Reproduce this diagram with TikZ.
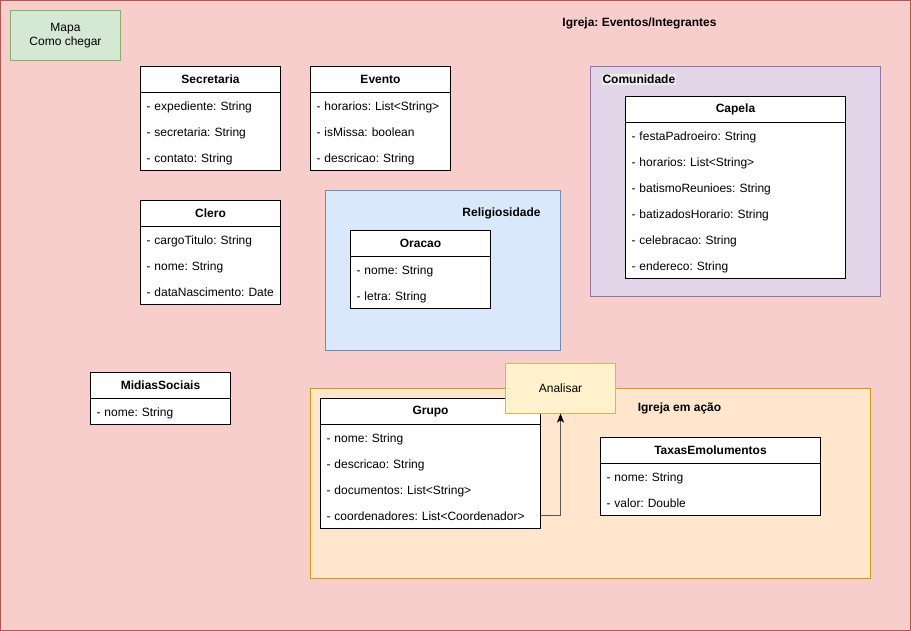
\documentclass[tikz,border=0pt]{standalone}
\usepackage{fontspec}
\setmainfont{Liberation Sans}
\usetikzlibrary{positioning}
\usetikzlibrary{arrows.meta}
\frenchspacing

\definecolor{bgfill}{HTML}{F8CECC}
\definecolor{bgdraw}{HTML}{B85450}
\definecolor{mapfill}{HTML}{D5E8D4}
\definecolor{mapdraw}{HTML}{82B366}
\definecolor{comfill}{HTML}{E1D5E7}
\definecolor{comdraw}{HTML}{9673A6}
\definecolor{relfill}{HTML}{DAE8FC}
\definecolor{reldraw}{HTML}{6C8EBF}
\definecolor{acaofill}{HTML}{FFE6CC}
\definecolor{acaodraw}{HTML}{D79B00}
\definecolor{notefill}{HTML}{FFF2CC}
\definecolor{notedraw}{HTML}{D6B656}

\begin{document}
\begin{tikzpicture}[x=1pt,y=-1pt,line width=1pt,
  every node/.style={font=\fontsize{12pt}{14pt}\selectfont, outer sep=0pt},
  classhead/.style={draw, fill=white, minimum height=26pt, inner sep=0pt, anchor=north west, font=\fontsize{12pt}{14pt}\selectfont\bfseries},
  classbody/.style={draw, fill=white, inner sep=0pt, anchor=north west},
  classrow/.style={minimum height=26pt, inner xsep=6pt, inner ysep=0pt, text height=12pt, text depth=2pt, align=left, text width=#1},
  classrow/.default=128pt,
  grouptitle/.style={font=\fontsize{12pt}{14pt}\selectfont\bfseries, inner sep=1pt}]

\useasboundingbox (-0.5,-0.5) rectangle (910.5,630.5);

% Background
\draw[fill=bgfill, draw=bgdraw] (0,0) rectangle (910,630);
\node[grouptitle] (title) at (639,23) {Igreja: Eventos/Integrantes};

% Mapa
\node[draw=mapdraw, fill=mapfill, minimum width=110pt, minimum height=50pt, align=center, inner sep=0pt] (mapa) at (65,35) {Mapa\\Como chegar};

% Containers
\draw[fill=comfill, draw=comdraw] (590,66) rectangle (880,296);
\node[grouptitle, fill=gray!15, anchor=west] (comunidade) at (601,79) {Comunidade};
\draw[fill=relfill, draw=reldraw] (325,190) rectangle (560,350);
\node[grouptitle] (religiosidade) at (501,213) {Religiosidade};
\draw[fill=acaofill, draw=acaodraw] (310,388) rectangle (870,578);
\node[grouptitle] (acao) at (679,408) {Igreja em ação};

% Secretaria
\node[classhead, minimum width=140pt] (secretaria) at (140,66) {Secretaria};
\node[classbody, minimum width=140pt, minimum height=78pt] (secretariabody) at (secretaria.south west) {};
\node[classrow, below=0pt of secretariabody.north] (secretaria1) {- expediente: String};
\node[classrow, below=0pt of secretaria1] (secretaria2) {- secretaria: String};
\node[classrow, below=0pt of secretaria2] (secretaria3) {- contato: String};

% Evento
\node[classhead, minimum width=140pt] (evento) at (310,66) {Evento};
\node[classbody, minimum width=140pt, minimum height=78pt] (eventobody) at (evento.south west) {};
\node[classrow, below=0pt of eventobody.north] (evento1) {- horarios: List<String>};
\node[classrow, below=0pt of evento1] (evento2) {- isMissa: boolean};
\node[classrow, below=0pt of evento2] (evento3) {- descricao: String};

% Clero
\node[classhead, minimum width=140pt] (clero) at (140,200) {Clero};
\node[classbody, minimum width=140pt, minimum height=78pt] (clerobody) at (clero.south west) {};
\node[classrow, below=0pt of clerobody.north] (clero1) {- cargoTitulo: String};
\node[classrow, below=0pt of clero1] (clero2) {- nome: String};
\node[classrow, below=0pt of clero2] (clero3) {- dataNascimento: Date};

% Oracao
\node[classhead, minimum width=140pt] (oracao) at (350,230) {Oracao};
\node[classbody, minimum width=140pt, minimum height=52pt] (oracaobody) at (oracao.south west) {};
\node[classrow, below=0pt of oracaobody.north] (oracao1) {- nome: String};
\node[classrow, below=0pt of oracao1] (oracao2) {- letra: String};

% Capela
\node[classhead, minimum width=220pt] (capela) at (625,96) {Capela};
\node[classbody, minimum width=220pt, minimum height=156pt] (capelabody) at (capela.south west) {};
\node[classrow=208pt, below=0pt of capelabody.north] (capela1) {- festaPadroeiro: String};
\node[classrow=208pt, below=0pt of capela1] (capela2) {- horarios: List<String>};
\node[classrow=208pt, below=0pt of capela2] (capela3) {- batismoReunioes: String};
\node[classrow=208pt, below=0pt of capela3] (capela4) {- batizadosHorario: String};
\node[classrow=208pt, below=0pt of capela4] (capela5) {- celebracao: String};
\node[classrow=208pt, below=0pt of capela5] (capela6) {- endereco: String};

% MidiasSociais
\node[classhead, minimum width=140pt] (midias) at (90,372) {MidiasSociais};
\node[classbody, minimum width=140pt, minimum height=26pt] (midiasbody) at (midias.south west) {};
\node[classrow, below=0pt of midiasbody.north] (midias1) {- nome: String};

% Grupo
\node[classhead, minimum width=220pt] (grupo) at (320,398) {Grupo};
\node[classbody, minimum width=220pt, minimum height=104pt] (grupobody) at (grupo.south west) {};
\node[classrow=208pt, below=0pt of grupobody.north] (grupo1) {- nome: String};
\node[classrow=208pt, below=0pt of grupo1] (grupo2) {- descricao: String};
\node[classrow=208pt, below=0pt of grupo2] (grupo3) {- documentos: List<String>};
\node[classrow=208pt, below=0pt of grupo3] (grupo4) {- coordenadores: List<Coordenador>};

% TaxasEmolumentos
\node[classhead, minimum width=220pt] (taxas) at (600,437) {TaxasEmolumentos};
\node[classbody, minimum width=220pt, minimum height=52pt] (taxasbody) at (taxas.south west) {};
\node[classrow=208pt, below=0pt of taxasbody.north] (taxas1) {- nome: String};
\node[classrow=208pt, below=0pt of taxas1] (taxas2) {- valor: Double};

% Analisar
\node[draw=notedraw, fill=notefill, minimum width=110pt, minimum height=50pt, inner sep=0pt] (analisar) at (560,388) {Analisar};

% Arrow
\draw[draw=black!65, -{Stealth[length=9pt,width=7pt,inset=2pt,color=black]}] (grupo4.east) -| (analisar.south);

\end{tikzpicture}
\end{document}
